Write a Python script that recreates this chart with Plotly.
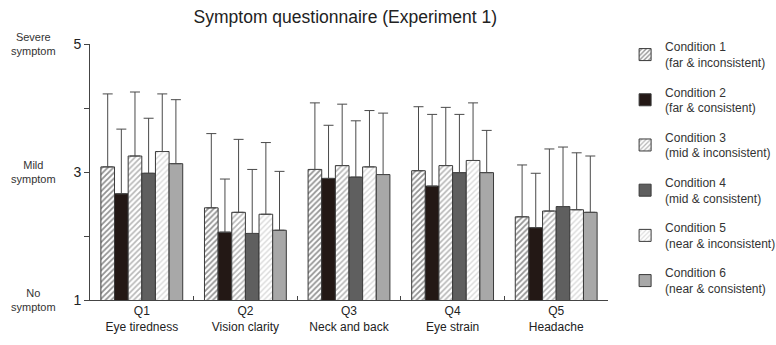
import plotly.graph_objects as go

# Questionnaire items (category axis) and their two-line tick labels
questions = ["Q1", "Q2", "Q3", "Q4", "Q5"]
question_labels = ["Q1<br>Eye tiredness", "Q2<br>Vision clarity", "Q3<br>Neck and back",
                   "Q4<br>Eye strain", "Q5<br>Headache"]

conditions = [
    "Condition 1<br>(far & inconsistent)",
    "Condition 2<br>(far & consistent)",
    "Condition 3<br>(mid & inconsistent)",
    "Condition 4<br>(mid & consistent)",
    "Condition 5<br>(near & inconsistent)",
    "Condition 6<br>(near & consistent)",
]

# Mean scores per condition (Q1..Q5)
mean_c1 = [3.08, 2.44, 3.04, 3.02, 2.30]
mean_c2 = [2.66, 2.06, 2.90, 2.78, 2.13]
mean_c3 = [3.25, 2.37, 3.10, 3.10, 2.39]
mean_c4 = [2.98, 2.04, 2.92, 2.99, 2.46]
mean_c5 = [3.32, 2.34, 3.08, 3.18, 2.41]
mean_c6 = [3.13, 2.09, 2.96, 2.99, 2.37]

# Upper end of the standard deviation whisker per condition (Q1..Q5)
upper_c1 = [4.22, 3.60, 4.08, 4.02, 3.11]
upper_c2 = [3.67, 2.89, 3.73, 3.90, 2.98]
upper_c3 = [4.25, 3.51, 4.06, 4.01, 3.36]
upper_c4 = [3.84, 3.04, 3.80, 3.90, 3.39]
upper_c5 = [4.22, 3.46, 3.96, 4.08, 3.30]
upper_c6 = [4.13, 3.01, 3.92, 3.65, 3.25]

means = [mean_c1, mean_c2, mean_c3, mean_c4, mean_c5, mean_c6]
uppers = [upper_c1, upper_c2, upper_c3, upper_c4, upper_c5, upper_c6]

# Fill style per condition: (background colour, hatch shape, hatch colour, hatch solidity)
styles = [
    ("#ffffff", "/", "#262626", 0.45),
    ("#231815", "", None, 0),
    ("#ffffff", "/", "#6e6e6e", 0.4),
    ("#5f5f5f", "", None, 0),
    ("#ffffff", "/", "#b4b4b4", 0.35),
    ("#a8a8a8", "", None, 0),
]

fig = go.Figure()
for i, (name, m, u, st) in enumerate(zip(conditions, means, uppers, styles)):
    bg, shape, fg, sol = st
    pattern = dict(shape=shape, fgcolor=fg, bgcolor=bg, size=4, solidity=sol) if shape else dict(shape="")
    fig.add_trace(go.Bar(
        x=questions, y=m, name=name, legendgroup=f"g{i}",
        marker=dict(color=bg, pattern=pattern, line=dict(color="#3a3a3a", width=1)),
        error_y=dict(type="data", symmetric=False,
                     array=[hi - lo for hi, lo in zip(u, m)],
                     arrayminus=[0] * len(m),
                     color="#4a4a4a", thickness=1, width=5),
    ))

font_family = "Liberation Sans, Arial, sans-serif"

fig.update_layout(
    width=776, height=345,
    margin=dict(l=90, r=168, t=44, b=45, autoexpand=False),
    paper_bgcolor="white", plot_bgcolor="white",
    font=dict(family=font_family, color="#222222", size=11),
    barmode="group", bargap=0.21, bargroupgap=0.0,
    title=dict(text="Symptom questionnaire (Experiment 1)", x=0.445, xanchor="center",
               y=0.952, yanchor="middle", font=dict(size=17.5, color="#222222")),
    legend=dict(x=1.033, y=1.045, xanchor="left", yanchor="top",
                font=dict(size=12, color="#333333"), tracegroupgap=11,
                maxheight=1, bgcolor="rgba(0,0,0,0)"),
    xaxis=dict(type="category", tickvals=questions, ticktext=question_labels,
               tickson="boundaries", ticks="inside", ticklen=4, tickcolor="#444444",
               showline=True, linecolor="#444444", linewidth=1,
               showgrid=False, tickfont=dict(size=12, color="#222222")),
    yaxis=dict(range=[1, 5], tickvals=[1, 2, 3, 4, 5], ticktext=["1", "", "3", "", "5"],
               ticks="outside", ticklen=5, tickcolor="#444444",
               showline=True, linecolor="#444444", linewidth=1,
               showgrid=False, zeroline=False, tickfont=dict(size=14, color="#222222")),
)

# Verbal anchors for the rating scale
for yv, txt in [(5, "Severe<br>symptom"), (3, "Mild<br>symptom"), (1, "No<br>symptom")]:
    fig.add_annotation(x=-0.11, xref="paper", y=yv, yref="y", text=txt, showarrow=False,
                       xanchor="center", yanchor="middle",
                       font=dict(size=11, color="#333333"))

fig.write_html("out.html")
